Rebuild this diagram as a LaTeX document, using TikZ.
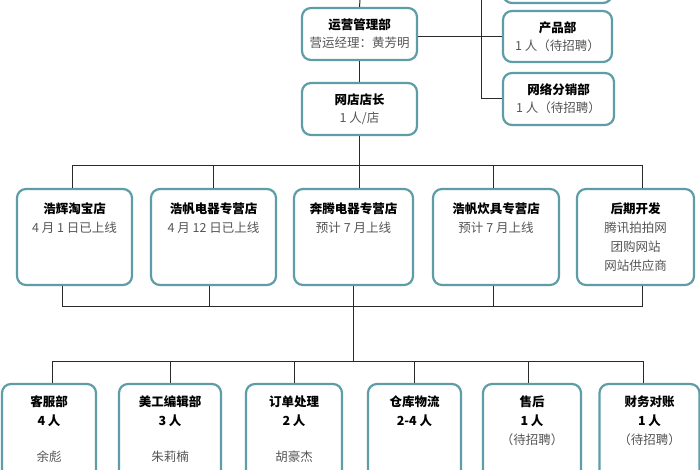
\documentclass[tikz,border=0pt]{standalone}
\usepackage{fontspec}
\setmainfont{Noto Sans CJK SC}
\usetikzlibrary{positioning,calc}
\definecolor{boxline}{HTML}{5E9CA8}
\definecolor{graytext}{HTML}{555555}
\definecolor{wire}{HTML}{2A2A2A}
\newcommand{\hd}[1]{{\bfseries\color{black}#1}}
\tikzset{
  box/.style={rounded corners=9pt,draw=boxline,line width=2.2pt,fill=white},
  boxtext/.style={font=\fontsize{12.5}{19}\selectfont,text=graytext,align=center,inner sep=0pt,anchor=north},
  toptext/.style={font=\fontsize{12.5}{18}\selectfont,text=graytext,align=center},
  wire/.style={draw=wire,line width=1pt}
}
\begin{document}
\begin{tikzpicture}[x=1pt,y=-1pt]
\useasboundingbox (0,0) rectangle (700,470);
\clip (0,0) rectangle (700,470);
\fill[white] (0,0) rectangle (700,470);
% upper part
\node[box,minimum width=109pt,minimum height=46pt] (top) at (557.5,-20) {};
\node[box,toptext,minimum width=115pt,minimum height=52pt] (yy) at (359.5,34) {\hd{运营管理部}\\营运经理：黄芳明};
\node[box,toptext,minimum width=109pt,minimum height=51pt] (cp) at (557.5,36.5) {\hd{产品部}\\1 人（待招聘）};
\node[box,toptext,minimum width=111pt,minimum height=52pt] (fx) at (558.5,99) {\hd{网络分销部}\\1 人（待招聘）};
\node[box,toptext,minimum width=115pt,minimum height=52pt] (dz) at (359.5,109) {\hd{网店店长}\\1 人/店};
\coordinate (yytop) at (360,0);
\coordinate (rtop) at (481,0);
\draw[wire] (yy.north) -- (yytop);
\draw[wire] (yy.south) -- (dz.north);
\draw[wire] ([yshift=-3pt]yy.east) -- ([yshift=-3pt]yy.east -| cp.west);
\draw[wire] (rtop) |- (fx.west);
% shops
\foreach \x/\w/\n/\txt in {
74.5/115/s1/{\hd{浩辉淘宝店}\\4 月 1 日已上线},
213.5/125/s2/{\hd{浩帆电器专营店}\\4 月 12 日已上线},
353.5/119/s3/{\hd{奔腾电器专营店}\\预计 7 月上线},
496/126/s4/{\hd{浩帆炊具专营店}\\预计 7 月上线},
635.5/117/s5/{\hd{后期开发}\\腾讯拍拍网\\团购网站\\网站供应商}}
{
\node[box,minimum width=\w pt,minimum height=96pt] (\n) at (\x,237) {};
\node[boxtext] at ([yshift=-15pt]\n.north) {\txt};
}
\draw[wire] (dz.south) -- (dz.south |- s3.north);
\draw[wire] ([xshift=-2pt]s1.north) -- ++(0,-22) -| ([xshift=7pt]s5.north);
\draw[wire] (s2.north) -- ++(0,-22);
\draw[wire] ([xshift=-3pt]s4.north) -- ++(0,-22);
\draw[wire] ([xshift=-12pt]s1.south) -- ++(0,20) -| ([xshift=7pt]s5.south);
\draw[wire] ([xshift=-4pt]s2.south) -- ++(0,20);
\draw[wire] ([xshift=-3pt]s4.south) -- ++(0,20);
\draw[wire] (s3.south) -- ++(0,76) coordinate (bus);
% departments
\foreach \x/\w/\n/\txt in {
49/94/kf/{\hd{客服部}\\\hd{4 人}\\[17pt]余彪},
170/102/mg/{\hd{美工编辑部}\\\hd{3 人}\\[17pt]朱莉楠},
294/96/dd/{\hd{订单处理}\\\hd{2 人}\\[17pt]胡豪杰},
414.5/93/ck/{\hd{仓库物流}\\\hd{2-4 人}},
532/98/sh/{\hd{售后}\\\hd{1 人}\\（待招聘）},
649.5/100/cw/{\hd{财务对账}\\\hd{1 人}\\（待招聘）}}
{
\node[box,minimum width=\w pt,minimum height=110pt] (\n) at (\x,439) {};
\node[boxtext] at ([yshift=-13pt]\n.north) {\txt};
}
\draw[wire] ([xshift=3pt]kf.north) -- ++(0,-21) -| ([xshift=-6pt]cw.north);
\draw[wire] (mg.north) -- ++(0,-21);
\draw[wire] (dd.north) -- ++(0,-21);
\draw[wire] (ck.north) -- ++(0,-21);
\draw[wire] ([xshift=-4pt]sh.north) -- ++(0,-21);
\end{tikzpicture}
\end{document}
